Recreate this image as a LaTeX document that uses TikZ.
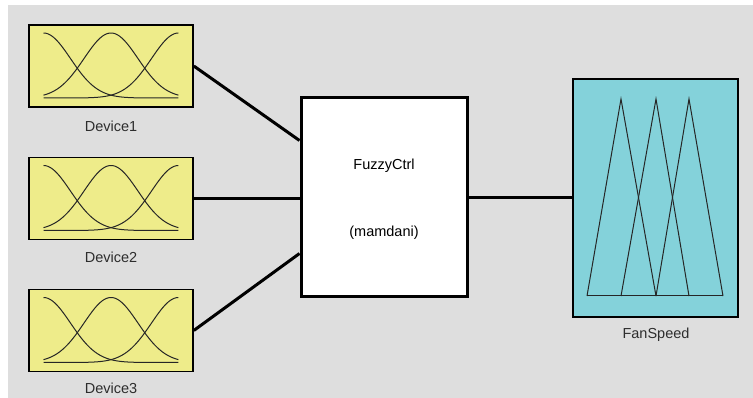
\documentclass[tikz,border=0pt]{standalone}
\usepackage{fontspec}
\setmainfont{Liberation Sans}
\usepackage{tikz}
\usetikzlibrary{positioning}
\definecolor{panelgray}{RGB}{222,222,222}
\definecolor{mfyellow}{RGB}{238,236,138}
\definecolor{mfcyan}{RGB}{132,210,218}
\definecolor{txtgray}{RGB}{45,45,45}
\tikzset{device/.style = {draw, fill=mfyellow, line width=1.6, minimum width=164, minimum height=82, inner sep=0}}
\tikzset{ctrlbox/.style = {draw, fill=white, line width=3, minimum width=166, minimum height=199, inner sep=0}}
\tikzset{outbox/.style = {draw, fill=mfcyan, line width=1.6, minimum width=165, minimum height=238, inner sep=0}}
\tikzset{lbl/.style = {text=txtgray, font=\fontsize{14.5}{16}\selectfont, inner sep=0}}
\tikzset{wire/.style = {line width=3}}
\tikzset{mfcurve/.style = {line width=1, black!85}}

\begin{document}
\begin{tikzpicture}[x=1pt, y=-1pt]
      \useasboundingbox (0,0) rectangle (753,398);
      \fill [panelgray] (8,5) rectangle (753,398);
      % inputs
      \node [device] (dev1) at (111,66) {};
      \node [device] (dev2) at (111,198.5) {};
      \node [device] (dev3) at (111,330.5) {};
      \node [lbl] (dev1lab) at (111,126) {Device1};
      \node [lbl] (dev2lab) at (111,257) {Device2};
      \node [lbl] (dev3lab) at (111,388) {Device3};
      \foreach \d in {dev1,dev2,dev3}
        \foreach \c in {0,0.5,1}
          \draw [mfcurve, shift={(\d.center)}] plot [domain=0:1, samples=70]
            ({135*\x-67.5}, {32-65*exp(-((\x-\c)^2)/0.08)});
      % controller
      \node [ctrlbox] (ctrl) at (384,197.5) {};
      \node [lbl, text=black] (ctrlname) at (384,166) {FuzzyCtrl};
      \node [lbl, text=black] (ctrltype) at (384,233) {(mamdani)};
      % output
      \node [outbox] (fan) at (655.5,198) {};
      \node [lbl] (fanlab) at (656,335) {FanSpeed};
      \foreach \a/\b/\c in {587/621/656, 621/656/689, 656/689/723}
        \draw [mfcurve] (\a,296) -- (\b,99) -- (\c,296);
      \draw [mfcurve] (587,296) -- (723,296);
      % wires
      \draw [wire] (dev1.east) -- ([yshift=57pt]ctrl.west);
      \draw [wire] (dev2.east) -- (dev2.east -| ctrl.west);
      \draw [wire] (dev3.east) -- ([yshift=-56pt]ctrl.west);
      \draw [wire] (ctrl.east) -- (ctrl.east -| fan.west);
    \end{tikzpicture}
\end{document}
